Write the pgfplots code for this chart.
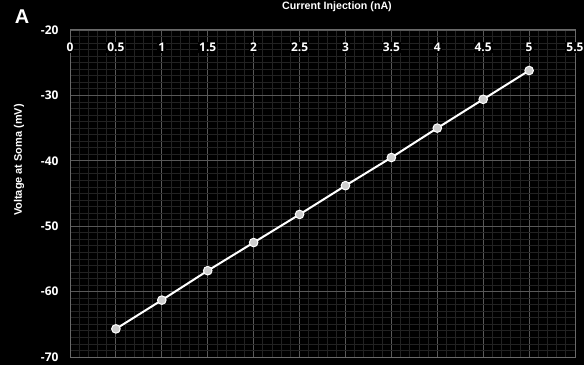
\documentclass[border=0pt]{standalone}
\usepackage{pgfplots}
\pgfplotsset{compat=1.18}
\usepackage{fontspec}
\setmainfont{Liberation Sans}
\newfontfamily\tickfont{Open Sans}

\definecolor{majgrid}{RGB}{88,88,88}
\definecolor{mingrid}{RGB}{34,34,34}
\definecolor{frame}{RGB}{105,105,105}
\definecolor{markfill}{RGB}{205,205,205}

\begin{document}
\begin{tikzpicture}[x=1bp,y=1bp]
  \fill[black] (0,0) rectangle (584,365);
  \begin{axis}[
    at={(70bp,8bp)}, anchor=south west,
    scale only axis,
    width=505bp, height=327bp,
    xmin=0, xmax=5.5, ymin=-70, ymax=-20,
    xtick={0,0.5,...,5.5},
    ytick={-70,-60,...,-20},
    minor x tick num=4,
    minor y tick num=9,
    grid=both,
    major grid style={majgrid, line width=0.9bp},
    minor grid style={mingrid, line width=0.8bp},
    axis line style={frame, line width=1bp},
    major tick length=0pt, minor tick length=0pt,
    xticklabel pos=upper,
    xticklabel style={anchor=center, yshift=-17.5bp, fill=black, inner sep=1bp,
      font=\tickfont\bfseries\fontsize{12}{12}\selectfont, text=white},
    yticklabel style={xshift=-8bp,
      font=\tickfont\bfseries\fontsize{12}{12}\selectfont, text=white},
    /pgf/number format/assume math mode=true,
    /pgf/number format/.cd, use period, 1000 sep={},
  ]
    \addplot[white, line width=2bp, mark=*,
      mark size=4.3bp,
      mark options={fill=markfill, draw=white, line width=1bp}]
      coordinates {
        (0.5,-65.7) (1.0,-61.3) (1.5,-56.8) (2.0,-52.5) (2.5,-48.2)
        (3.0,-43.8) (3.5,-39.5) (4.0,-35.0) (4.5,-30.6) (5.0,-26.2)
      };
  \end{axis}
  % titles
  \node[text=white, font=\bfseries\fontsize{10.7}{12}\selectfont]
    at (337,358) {Current Injection (nA)};
  \node[text=white, font=\bfseries\fontsize{11}{12}\selectfont, rotate=90]
    at (19,205) {Voltage at Soma (mV)};
  \node[text=white, font=\bfseries\fontsize{20}{22}\selectfont]
    at (22,348) {A};
  \pgfresetboundingbox
  \path (0,0) rectangle (584,365);
\end{tikzpicture}
\end{document}
